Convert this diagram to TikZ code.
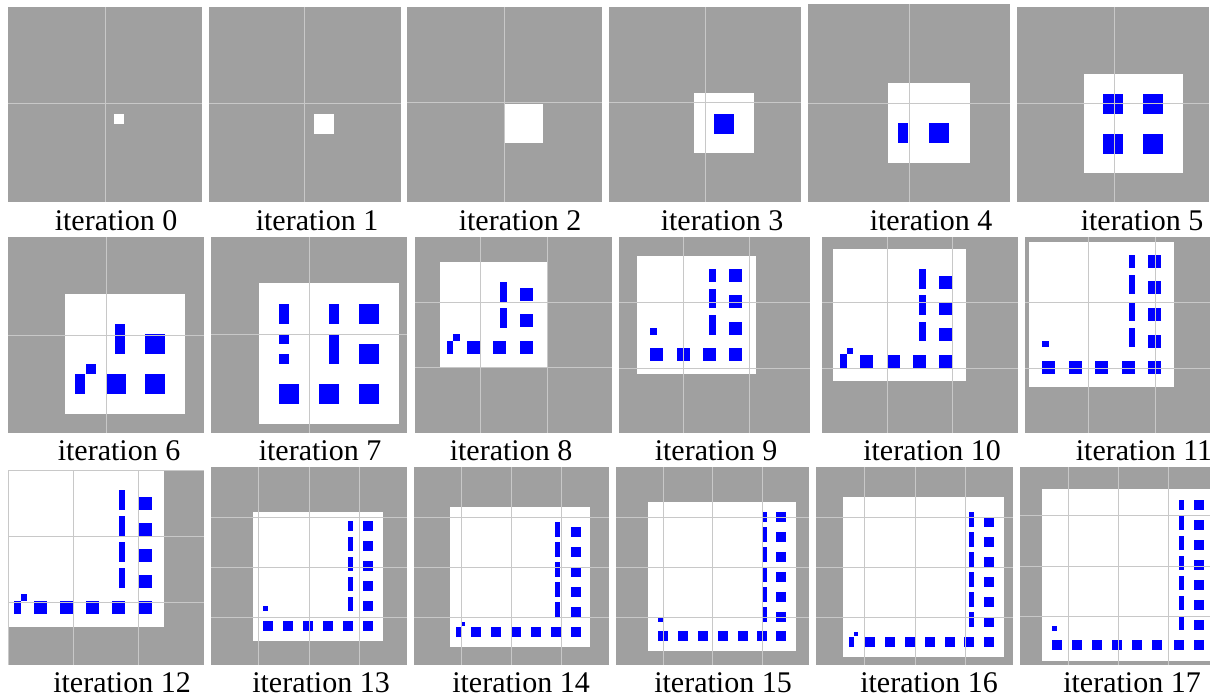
\documentclass[tikz,border=0pt]{standalone}
\usepackage{fontspec}
\setmainfont{Liberation Serif}
\definecolor{panelbg}{HTML}{A0A0A0}
\definecolor{gridgray}{HTML}{C8C8C8}
\definecolor{cellblue}{HTML}{0000FF}

\begin{document}
\begin{tikzpicture}[x=1pt, y=-1pt,
  bg/.style={fill=panelbg},
  win/.style={fill=white},
  cell/.style={fill=cellblue},
  gline/.style={draw=gridgray, line width=1pt},
  lab/.style={font=\fontsize{30}{30}\selectfont, anchor=base, inner sep=0pt}]
\useasboundingbox (0,0) rectangle (1210,698);

% row 1
\begin{scope}
\clip (8,7) rectangle (202,202);
\fill[bg] (8,7) rectangle (202,202);
\fill[win] (114,114) rectangle ++(10,10);
\draw[gline] (105,7) -- (105,202) (8,104) -- (202,104);
\end{scope}
\begin{scope}
\clip (209,7) rectangle (401,202);
\fill[bg] (209,7) rectangle (401,202);
\fill[win] (314,114) rectangle ++(20,20);
\draw[gline] (304,7) -- (304,202) (209,104) -- (401,104);
\end{scope}
\begin{scope}
\clip (407,7) rectangle (602,202);
\fill[bg] (407,7) rectangle (602,202);
\fill[win] (504,104) rectangle ++(39,39);
\draw[gline] (504,7) -- (504,202) (407,103) -- (602,103);
\end{scope}
\begin{scope}
\clip (609,7) rectangle (801,202);
\fill[bg] (609,7) rectangle (801,202);
\fill[win] (694,93) rectangle (754,153);
\fill[cell] (714,114) rectangle ++(20,20);
\draw[gline] (705,7) -- (705,202) (609,103) -- (801,103);
\end{scope}
\begin{scope}
\clip (808,4) rectangle (1010,202);
\fill[bg] (808,4) rectangle (1010,202);
\fill[win] (888,83) rectangle (970,163);
\fill[cell] (898,123) rectangle ++(10,20);
\fill[cell] (929,123) rectangle ++(20,20);
\draw[gline] (909,4) -- (909,202) (808,104) -- (1010,104);
\end{scope}
\begin{scope}
\clip (1017,7) rectangle (1209,202);
\fill[bg] (1017,7) rectangle (1209,202);
\fill[win] (1084,74) rectangle (1183,173);
\foreach \x/\y in {1103/94, 1143/94, 1103/134, 1143/134}
  \fill[cell] (\x,\y) rectangle ++(20,20);
\draw[gline] (1114,7) -- (1114,202) (1017,104) -- (1209,104);
\end{scope}

% row 2
\begin{scope}
\clip (8,237) rectangle (204,433);
\fill[bg] (8,237) rectangle (204,433);
\fill[win] (65,294) rectangle (185,414);
\foreach \x/\y/\w/\h in {115/324/10/30, 145/334/20/20, 86/364/10/10,
    75/374/10/20, 106/374/20/20, 145/374/20/20}
  \fill[cell] (\x,\y) rectangle ++(\w,\h);
\draw[gline] (106,237) -- (106,433) (8,335) -- (204,335);
\end{scope}
\begin{scope}
\clip (211,237) rectangle (407,433);
\fill[bg] (211,237) rectangle (407,433);
\fill[win] (259,283) rectangle (399,424);
\foreach \x/\y/\w/\h in {279/304/10/20, 329/304/10/20, 359/304/20/20,
    279/334/10/10, 279/354/10/10, 329/334/10/30, 359/344/20/20,
    279/384/20/20, 319/384/20/20, 359/384/20/20}
  \fill[cell] (\x,\y) rectangle ++(\w,\h);
\draw[gline] (309,237) -- (309,433) (211,334) -- (407,334);
\end{scope}
\begin{scope}
\clip (415,237) rectangle (612,433);
\fill[bg] (415,237) rectangle (612,433);
\fill[win] (440,262) rectangle (547,367);
\foreach \x/\y/\w/\h in {500/282/7/20, 520/288/13/13, 500/308/7/20,
    520/314/13/13, 453/334/7/7, 447/341/6/13, 467/341/13/13,
    493/341/13/13, 520/341/13/13}
  \fill[cell] (\x,\y) rectangle ++(\w,\h);
\foreach \g in {480,547} \draw[gline] (\g,237) -- (\g,433);
\foreach \g in {302,367} \draw[gline] (415,\g) -- (612,\g);
\end{scope}
\begin{scope}
\clip (619,237) rectangle (810,433);
\fill[bg] (619,237) rectangle (810,433);
\fill[win] (637,256) rectangle (756,374);
\foreach \x/\y/\w/\h in {709/269/7/13, 709/289/7/19, 709/315/7/20,
    729/269/13/13, 729/295/13/13, 729/322/13/13, 650/328/7/7,
    650/348/13/13, 677/348/13/13, 703/348/13/13, 729/348/13/13}
  \fill[cell] (\x,\y) rectangle ++(\w,\h);
\foreach \g in {683,749} \draw[gline] (\g,237) -- (\g,433);
\foreach \g in {302,368} \draw[gline] (619,\g) -- (810,\g);
\end{scope}
\begin{scope}
\clip (822,237) rectangle (1018,433);
\fill[bg] (822,237) rectangle (1018,433);
\fill[win] (833,249) rectangle (966,381);
\foreach \x/\y/\w/\h in {919/269/7/20, 919/295/7/20, 919/322/7/19,
    939/276/13/13, 939/302/13/13, 939/328/13/13, 847/348/6/6,
    840/354/7/14, 860/355/13/13, 887/355/13/13, 913/355/13/13,
    939/355/13/13}
  \fill[cell] (\x,\y) rectangle ++(\w,\h);
\foreach \g in {887,952} \draw[gline] (\g,237) -- (\g,433);
\foreach \g in {302,368} \draw[gline] (822,\g) -- (1018,\g);
\end{scope}
\begin{scope}
\clip (1025,237) rectangle (1210,433);
\fill[bg] (1025,237) rectangle (1210,433);
\fill[win] (1029,242) rectangle (1174,387);
\foreach \x/\y/\w/\h in {1129/255/6/13, 1129/275/6/19, 1129/302/6/19,
    1129/328/6/19, 1042/341/7/6}
  \fill[cell] (\x,\y) rectangle ++(\w,\h);
\foreach \y in {255,281,308,335,361} \fill[cell] (1148,\y) rectangle ++(13,13);
\foreach \x in {1042,1069,1095,1122} \fill[cell] (\x,361) rectangle ++(13,13);
\foreach \g in {1088,1155} \draw[gline] (\g,237) -- (\g,433);
\foreach \g in {302,368} \draw[gline] (1025,\g) -- (1210,\g);
\end{scope}

% row 3
\begin{scope}
\clip (8,470) rectangle (204,665);
\fill[bg] (8,470) rectangle (204,665);
\fill[win] (8,470) rectangle (164,627);
\foreach \y in {490,516,542,568} \fill[cell] (119,\y) rectangle ++(6,20);
\foreach \y in {497,523,549,575,601} \fill[cell] (139,\y) rectangle ++(13,13);
\fill[cell] (21,594) rectangle ++(6,7);
\fill[cell] (14,601) rectangle ++(7,13);
\foreach \x in {34,60,86,112} \fill[cell] (\x,601) rectangle ++(13,13);
\foreach \g in {8,73,138} \draw[gline] (\g,470) -- (\g,665);
\foreach \g in {470,536,602} \draw[gline] (8,\g) -- (204,\g);
\end{scope}
\begin{scope}
\clip (211,467) rectangle (407,665);
\fill[bg] (211,467) rectangle (407,665);
\fill[win] (253,512) rectangle (383,641);
\fill[cell] (348,521) rectangle ++(5,10);
\foreach \y in {537,557,577,597} \fill[cell] (348,\y) rectangle ++(5,14);
\foreach \y in {521,541,561,581,601,621} \fill[cell] (363,\y) rectangle ++(10,10);
\fill[cell] (263,606) rectangle ++(5,5);
\foreach \x in {263,283,303,323,343} \fill[cell] (\x,621) rectangle ++(10,10);
\foreach \g in {258,309,359} \draw[gline] (\g,467) -- (\g,665);
\foreach \g in {517,567,617} \draw[gline] (211,\g) -- (407,\g);
\end{scope}
\begin{scope}
\clip (414,467) rectangle (609,665);
\fill[bg] (414,467) rectangle (609,665);
\fill[win] (450,507) rectangle (590,647);
\foreach \y in {522,542,562,582,602} \fill[cell] (555,\y) rectangle ++(5,15);
\foreach \y in {527,547,567,587,607,627} \fill[cell] (571,\y) rectangle ++(10,10);
\fill[cell] (461,622) rectangle ++(4,4);
\fill[cell] (456,627) rectangle ++(5,10);
\foreach \x in {471,491,511,531,551} \fill[cell] (\x,627) rectangle ++(10,10);
\foreach \g in {461,511,561} \draw[gline] (\g,467) -- (\g,665);
\foreach \g in {517,567,617} \draw[gline] (414,\g) -- (609,\g);
\end{scope}
\begin{scope}
\clip (616,467) rectangle (809,665);
\fill[bg] (616,467) rectangle (809,665);
\fill[win] (648,502) rectangle (796,651);
\fill[cell] (762,512) rectangle ++(5,10);
\foreach \y in {527,547,567,587,607} \fill[cell] (762,\y) rectangle ++(5,15);
\foreach \y in {512,532,552,572,592,612,631} \fill[cell] (776,\y) rectangle ++(10,10);
\fill[cell] (658,617) rectangle ++(5,5);
\foreach \x in {658,678,698,718,738,757} \fill[cell] (\x,631) rectangle ++(10,10);
\foreach \g in {663,712,762} \draw[gline] (\g,467) -- (\g,665);
\foreach \g in {517,567,617} \draw[gline] (616,\g) -- (809,\g);
\end{scope}
\begin{scope}
\clip (816,467) rectangle (1013,665);
\fill[bg] (816,467) rectangle (1013,665);
\fill[win] (843,497) rectangle (1004,657);
\foreach \y in {512,532,552,572,592,612} \fill[cell] (969,\y) rectangle ++(5,15);
\foreach \y in {517,537,557,577,597,617,637} \fill[cell] (984,\y) rectangle ++(10,10);
\fill[cell] (854,632) rectangle ++(4,4);
\fill[cell] (849,637) rectangle ++(5,10);
\foreach \x in {865,885,905,925,945,964} \fill[cell] (\x,637) rectangle ++(10,10);
\foreach \g in {864,915,965} \draw[gline] (\g,467) -- (\g,665);
\foreach \g in {517,567,617} \draw[gline] (816,\g) -- (1013,\g);
\end{scope}
\begin{scope}
\clip (1020,467) rectangle (1210,665);
\fill[bg] (1020,467) rectangle (1210,665);
\fill[win] (1042,489) rectangle (1210,661);
\fill[cell] (1179,500) rectangle ++(5,10);
\foreach \y in {516,536,556,576,596,616} \fill[cell] (1179,\y) rectangle ++(5,14);
\foreach \y in {500,520,540,560,580,600,620,640} \fill[cell] (1194,\y) rectangle ++(10,10);
\fill[cell] (1052,626) rectangle ++(5,5);
\foreach \x in {1052,1072,1092,1112,1132,1152,1174} \fill[cell] (\x,640) rectangle ++(10,10);
\foreach \g in {1068,1118,1168} \draw[gline] (\g,467) -- (\g,665);
\foreach \g in {515,566,616} \draw[gline] (1020,\g) -- (1210,\g);
\end{scope}

% captions
\foreach \n/\x/\y in {0/116/230, 1/317/230, 2/520/230, 3/722/230, 4/931/230, 5/1142/230,
    6/119/460, 7/320/460, 8/511/460, 9/716/460, 10/932/460, 11/1144/460,
    12/122/692, 13/321/692, 14/521/692, 15/723/692, 16/929/692, 17/1132/692}
  \node[lab] (it\n) at (\x,\y) {iteration \n};
\end{tikzpicture}
\end{document}
